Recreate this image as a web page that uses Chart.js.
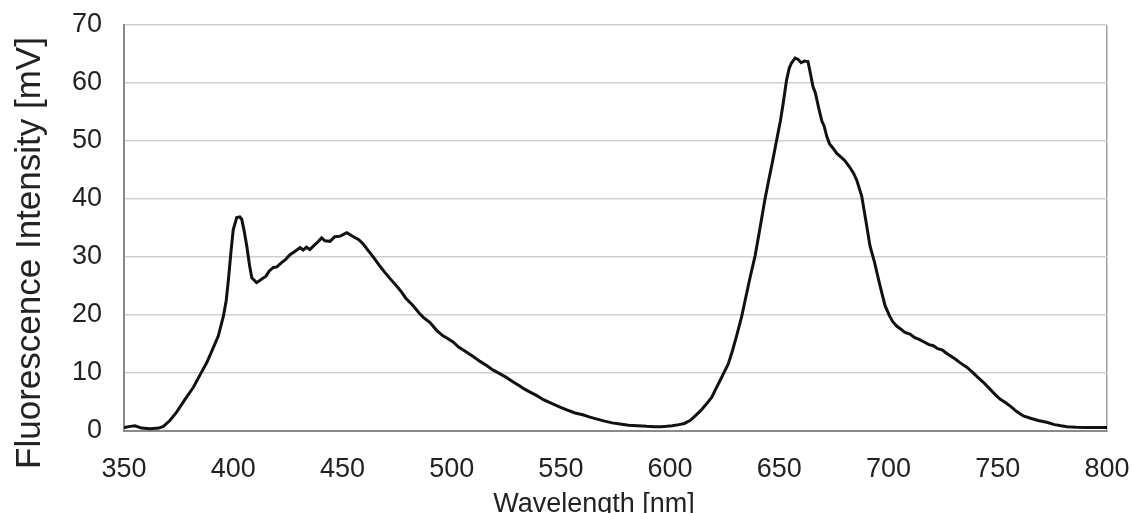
<!DOCTYPE html>
<html>
<head>
<meta charset="utf-8">
<script src="https://cdn.jsdelivr.net/npm/chart.js@4"></script>
<style>
  body { margin: 0; background: #fff; }
  #wrap { width: 1133px; height: 513px; position: relative; }
</style>
</head>
<body>
<div id="wrap"><canvas id="spectrumChart"></canvas></div>
<script>
// Spectrum
const wavelengths = [350, 353, 355, 358, 362, 366, 368, 371, 374, 378, 381.7, 385, 387.9, 390, 393.2, 395.5, 396.8, 397.8, 399, 400, 401.6, 403, 403.9, 405, 406.2, 407.5, 408.5, 410.7, 412, 413.8, 415, 416.5, 418.4, 420, 422, 424, 426, 428, 430.6, 432, 433.5, 435.1, 437, 438.5, 440.5, 442, 444.3, 446.5, 449, 452, 455, 457.5, 459.6, 462, 464.5, 467.2, 469.5, 471.5, 474.8, 477, 479, 482.4, 485, 487, 490.1, 493, 496, 498, 500.8, 503, 506, 510, 513, 516, 519, 522, 525.2, 528, 531, 533, 535.9, 539, 542, 545.5, 549.6, 553, 556.5, 560, 563.3, 567, 570, 573.5, 577.1, 581, 585, 589.3, 593, 596, 598.4, 601, 604, 606.5, 609.1, 611.5, 614, 616.5, 619, 621, 623, 624.8, 626.6, 628.5, 630.5, 632.8, 634.5, 636.5, 638.9, 640.7, 643.4, 645, 646.8, 648.8, 650.5, 651.8, 653.3, 654.5, 655.5, 657.2, 658.5, 660, 661.5, 663.1, 664.3, 665.4, 666.5, 668, 669.5, 670.5, 671.7, 673, 674.5, 676.2, 678, 680, 682, 683.9, 685.5, 687.7, 689.5, 691.5, 693.5, 696, 698.4, 700.5, 702, 703.7, 705.5, 707.5, 709.8, 712, 714, 716.5, 718.5, 720.5, 722.5, 724.5, 726.5, 728.1, 730.5, 733, 735.8, 738.5, 741, 743.4, 746, 748.5, 751, 753.5, 756, 758.5, 761.7, 765, 768.5, 772.4, 776, 779, 781.6, 786, 790, 795, 800];
const intensity = [0.6, 0.8, 0.9, 0.5, 0.4, 0.5, 0.8, 1.8, 3.2, 5.5, 7.5, 9.8, 11.8, 13.6, 16.4, 19.8, 22.5, 26.1, 31, 34.7, 36.8, 36.9, 36.5, 34.5, 31.9, 28.5, 26.4, 25.6, 25.9, 26.4, 26.7, 27.6, 28.2, 28.3, 29.0, 29.6, 30.4, 30.9, 31.6, 31.2, 31.7, 31.3, 32.0, 32.5, 33.3, 32.8, 32.7, 33.5, 33.6, 34.2, 33.5, 33.0, 32.2, 31.0, 29.8, 28.4, 27.3, 26.4, 25.0, 24.0, 22.9, 21.6, 20.4, 19.6, 18.7, 17.4, 16.4, 16.0, 15.3, 14.5, 13.8, 12.8, 12.0, 11.3, 10.5, 9.9, 9.2, 8.5, 7.8, 7.3, 6.7, 6.1, 5.4, 4.8, 4.1, 3.6, 3.1, 2.8, 2.4, 2.0, 1.7, 1.4, 1.2, 1.0, 0.9, 0.8, 0.75, 0.75, 0.8, 0.9, 1.1, 1.3, 1.8, 2.6, 3.5, 4.6, 5.8, 7.3, 8.8, 10.2, 11.5, 13.8, 16.5, 19.8, 22.8, 26.3, 30.2, 34.0, 39.9, 43.0, 46.3, 50.2, 53.5, 56.6, 60.5, 62.5, 63.4, 64.3, 64.1, 63.5, 63.8, 63.7, 61.5, 59.4, 58.3, 55.7, 53.4, 52.6, 50.8, 49.5, 48.8, 47.9, 47.3, 46.6, 45.6, 44.5, 43.2, 40.5, 36.5, 31.9, 29.2, 25.2, 21.6, 19.8, 18.8, 18.1, 17.6, 17.0, 16.7, 16.1, 15.8, 15.3, 14.9, 14.7, 14.2, 14.0, 13.4, 13.0, 12.4, 11.7, 11.0, 10.1, 9.2, 8.4, 7.4, 6.4, 5.5, 4.9, 4.2, 3.4, 2.6, 2.2, 1.8, 1.5, 1.1, 0.9, 0.75, 0.65, 0.6, 0.6, 0.6];

const xTitle = 'Wavelength [nm]';
const yTitle = 'Fluorescence Intensity [mV]';

const points = wavelengths.map((w, i) => ({ x: w, y: intensity[i] }));

const FONT = 'Liberation Sans, Arial, sans-serif';

// axis titles drawn by hand so they sit where the original has them
const axisTitles = {
  id: 'axisTitles',
  afterDraw(chart) {
    const c = chart.ctx;
    c.save();
    c.fillStyle = '#222';
    c.font = '35px ' + FONT;
    c.translate(30, 253);
    c.rotate(-Math.PI / 2);
    c.textAlign = 'center';
    c.textBaseline = 'middle';
    c.fillText(yTitle, 0, 0);
    c.restore();

    c.save();
    c.fillStyle = '#222';
    c.font = '27px ' + FONT;
    c.textAlign = 'center';
    c.textBaseline = 'alphabetic';
    c.fillText(xTitle, 594, 512);
    c.restore();
  }
};

const ctx = document.getElementById('spectrumChart').getContext('2d');
const spectrumChart = new Chart(ctx, {
  type: 'line',
  data: {
    datasets: [{
      label: yTitle,
      data: points,
      borderColor: '#111',
      borderWidth: 3,
      pointRadius: 0,
      tension: 0,
      fill: false
    }]
  },
  options: {
    responsive: true,
    maintainAspectRatio: false,
    animation: false,
    layout: { padding: { left: 0, top: 25, right: 26, bottom: 0 } },
    plugins: {
      legend: { display: false },
      tooltip: { enabled: false }
    },
    scales: {
      x: {
        type: 'linear',
        min: 350,
        max: 800,
        afterFit: s => { s.height = 82; s.paddingLeft = 0; s.paddingRight = 0; },
        ticks: {
          stepSize: 50,
          padding: 22,
          color: '#222',
          font: { family: FONT, size: 27 }
        },
        grid: {
          drawTicks: false,
          lineWidth: 1.5,
          color: c => (c.tick && c.tick.value === 800) ? '#a0a0a0' : 'rgba(0,0,0,0)'
        },
        border: { color: '#8a8a8a', width: 2 }
      },
      y: {
        min: 0,
        max: 70,
        afterFit: s => { s.width = 124; s.paddingTop = 0; s.paddingBottom = 0; },
        ticks: {
          stepSize: 10,
          padding: 22,
          color: '#222',
          font: { family: FONT, size: 27 }
        },
        grid: {
          drawTicks: false,
          lineWidth: 1.5,
          color: '#cfcfcf'
        },
        border: { color: '#8a8a8a', width: 2 }
      }
    }
  },
  plugins: [axisTitles]
});
</script>
</body>
</html>
